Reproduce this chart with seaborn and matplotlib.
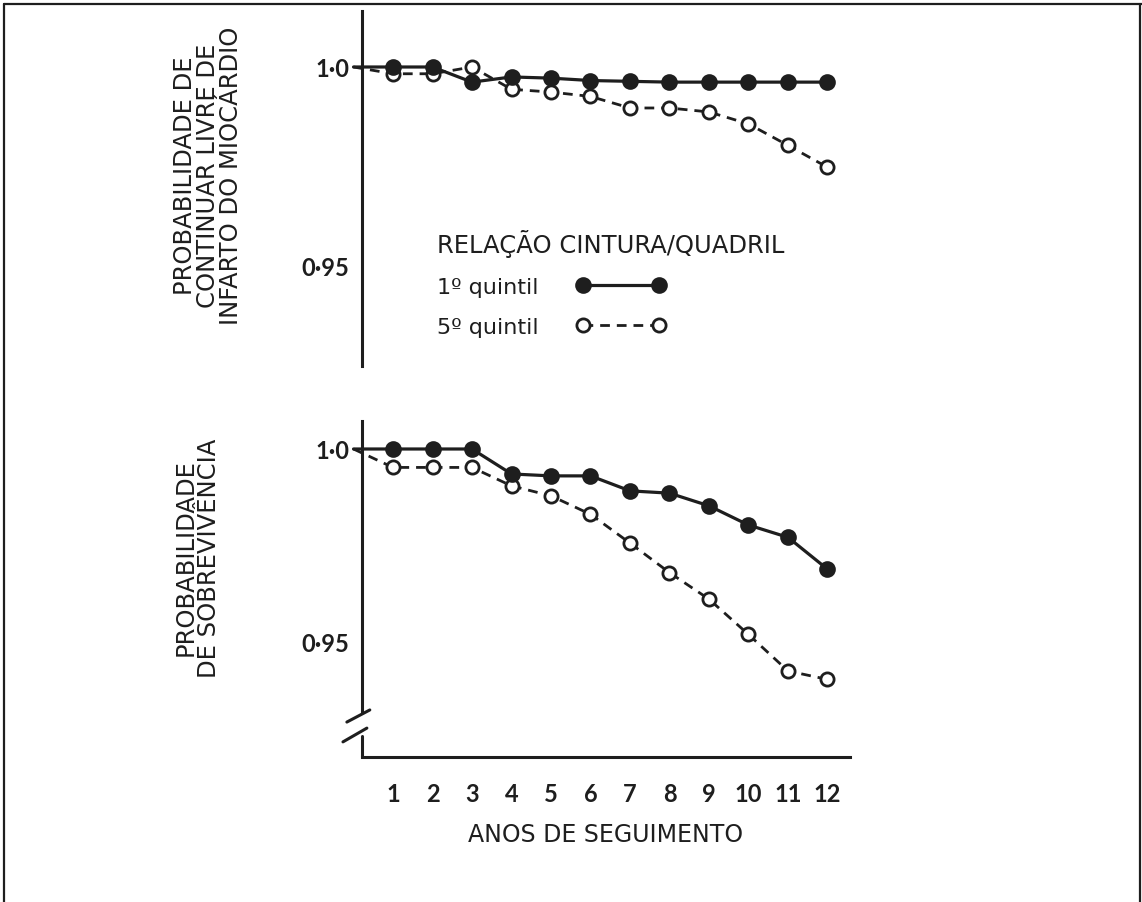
import pandas as pd
import matplotlib
matplotlib.use("Agg")
import matplotlib.pyplot as plt
from matplotlib.lines import Line2D
import seaborn as sns

# values (year 0 = start of follow-up, no marker)
years = [0, 1, 2, 3, 4, 5, 6, 7, 8, 9, 10, 11, 12]
mi_q1 = [1.0, 1.0, 1.0, 0.9962, 0.9975, 0.9972, 0.9966, 0.9964, 0.9962, 0.9962, 0.9962, 0.9962, 0.9962]
mi_q5 = [1.0, 0.9983, 0.9983, 1.0, 0.9944, 0.9937, 0.9926, 0.9897, 0.9897, 0.9887, 0.9857, 0.9803, 0.9748]
surv_q1 = [1.0, 1.0, 1.0, 1.0, 0.9935, 0.9930, 0.9930, 0.9891, 0.9885, 0.9852, 0.9802, 0.9770, 0.9687]
surv_q5 = [1.0, 0.9952, 0.9952, 0.9952, 0.9904, 0.9878, 0.9830, 0.9755, 0.9678, 0.9609, 0.9517, 0.9422, 0.9400]

x_ticks = list(range(1, 13))
y_ticks = [0.95, 1.0]
y_ticklabels = ["0·95", "1·0"]
legend_title = "RELAÇÃO CINTURA/QUADRIL"
series_labels = ["1º quintil", "5º quintil"]

INK = "#1e1e1e"
W, H = 1142, 903
WORD_FONT = ["DejaVu Sans"]
NUM_FONT = ["Lato", "DejaVu Sans"]


def draw_pair(ax, q1, q5, with_labels):
    df = pd.DataFrame({"ano": years, "q1": q1, "q5": q5})
    sns.lineplot(data=df, x="ano", y="q1", ax=ax, color=INK, lw=2.3,
                 marker="o", ms=10.5, mfc=INK, mec=INK, mew=1.5,
                 markevery=list(range(1, len(years))), clip_on=False, zorder=4,
                 label=series_labels[0] if with_labels else None, legend=False)
    sns.lineplot(data=df, x="ano", y="q5", ax=ax, color=INK, lw=2.0,
                 linestyle=(0, (3.5, 2.5)),
                 marker="o", ms=9.5, mfc="white", mec=INK, mew=2.0,
                 markevery=list(range(1, len(years))), clip_on=False, zorder=3,
                 label=series_labels[1] if with_labels else None, legend=False)
    ax.set_xlim(0.215, 12.57)
    ax.set_yticks(y_ticks)
    ax.set_yticklabels(y_ticklabels)
    ax.set_xlabel("")
    ax.set_ylabel("")
    for s in ["top", "right"]:
        ax.spines[s].set_visible(False)
    for s in ["left", "bottom"]:
        ax.spines[s].set_color(INK)
        ax.spines[s].set_linewidth(2.2)
    ax.tick_params(axis="y", direction="out", length=6, width=2, color=INK,
                   labelsize=17, pad=3, labelcolor=INK)
    for t in ax.get_yticklabels():
        t.set_fontweight("bold")
        t.set_family(NUM_FONT)


def main():
    sns.set_style("white")
    plt.rcParams["font.family"] = ["DejaVu Sans"]

    fig = plt.figure(figsize=(W / 100, H / 100), dpi=100)

    # top panel: myocardial infarction free
    ax1 = fig.add_axes([362 / W, 1 - 367 / H, 488 / W, 355 / H])
    draw_pair(ax1, mi_q1, mi_q5, True)
    ax1.set_ylim(0.92487, 1.01407)
    ax1.spines["bottom"].set_visible(False)
    ax1.set_xticks([])

    # bottom panel: survival
    ax2 = fig.add_axes([362 / W, 1 - 758 / H, 488 / W, 336 / H])
    draw_pair(ax2, surv_q1, surv_q5, False)
    ax2.set_ylim(0.9198, 1.00729)
    ax2.set_xticks(x_ticks)
    ax2.set_xticklabels([str(v) for v in x_ticks])
    ax2.tick_params(axis="x", direction="out", length=7, width=2, color=INK,
                    labelsize=17, pad=11, labelcolor=INK)
    for t in ax2.get_xticklabels():
        t.set_fontweight("bold")
        t.set_family(NUM_FONT)
    ax2.set_xlabel("ANOS DE SEGUIMENTO", fontsize=17, color=INK, labelpad=12,
                   family=WORD_FONT)

    # broken y axis
    ax2.spines["left"].set_bounds(0.9315, 1.00729)
    tr = ax2.transAxes
    ax2.plot([0, 0], [0, 0.0625], transform=tr, color=INK, lw=2.2, clip_on=False)
    ax2.plot([-0.031, 0.016], [0.104, 0.140], transform=tr, color=INK, lw=2.2, clip_on=False)
    ax2.plot([-0.039, 0.010], [0.045, 0.086], transform=tr, color=INK, lw=2.2, clip_on=False)

    # legend
    leg = ax1.legend(title=legend_title, loc="upper left",
                     bbox_to_anchor=(437 / W, 1 - 230 / H),
                     bbox_transform=fig.transFigure, frameon=False,
                     markerfirst=False, numpoints=2, handlelength=4.0,
                     handletextpad=1.7, labelspacing=0.9, fontsize=16,
                     title_fontsize=17.5, alignment="left", borderpad=0,
                     borderaxespad=0)
    for t in leg.get_texts():
        t.set_color(INK)
    leg.get_title().set_color(INK)

    # y labels
    fig.text(208 / W, 1 - 176 / H,
             "PROBABILIDADE DE\nCONTINUAR LIVRE DE\nINFARTO DO MIOCÁRDIO",
             rotation=90, ha="center", va="center", multialignment="center",
             fontsize=17.5, color=INK, linespacing=0.95)
    fig.text(197 / W, 1 - 558 / H, "PROBABILIDADE\nDE SOBREVIVÊNCIA",
             rotation=90, ha="center", va="center", multialignment="center",
             fontsize=17.5, color=INK, linespacing=0.95)

    # page frame
    for xs, ys in [([4, 4], [5, H]), ([4, W], [5, 5]), ([W - 2, W - 2], [5, H])]:
        fig.add_artist(Line2D([x / W for x in xs], [1 - y / H for y in ys],
                              transform=fig.transFigure, color=INK, lw=1.6))

    fig.savefig("out.png", dpi=100)


if __name__ == "__main__":
    main()
